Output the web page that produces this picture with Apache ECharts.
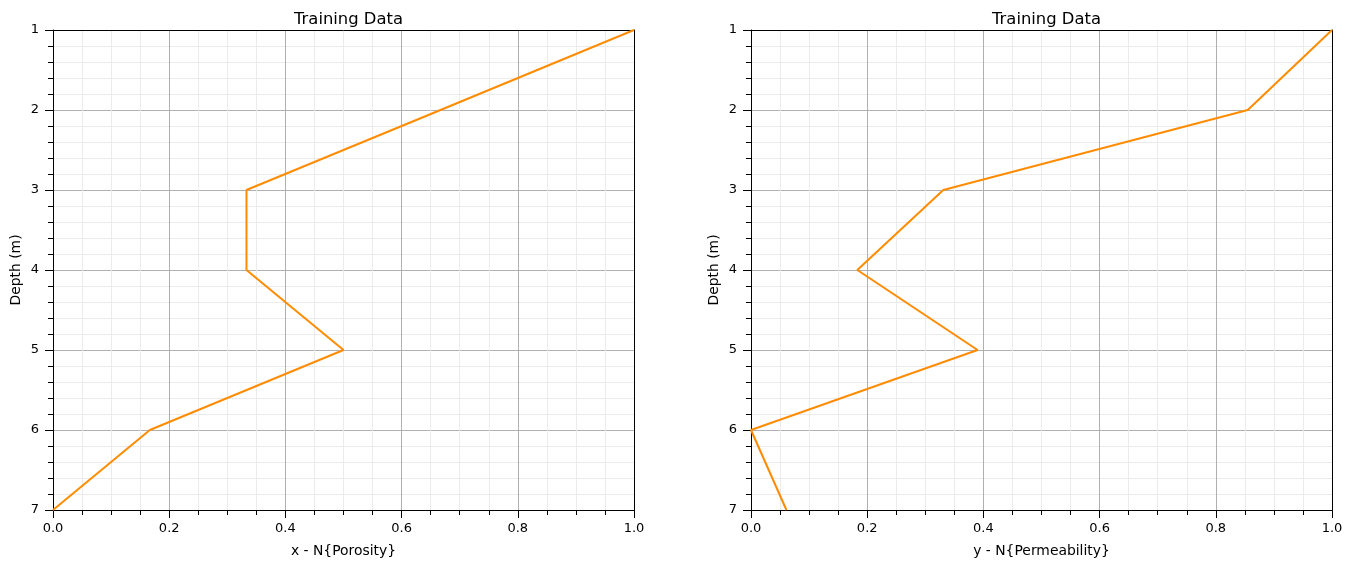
<!DOCTYPE html>
<html>
<head>
<meta charset="utf-8">
<script src="https://cdn.jsdelivr.net/npm/echarts@6/dist/echarts.min.js"></script>
<style>html,body{margin:0;padding:0;background:#fff}#c{width:1354px;height:568px}</style>
</head>
<body>
<div id="c"></div>
<script>
const depths = [1, 2, 3, 4, 5, 6, 7];
const porosity = [1.0, 0.667, 0.333, 0.333, 0.5, 0.1667, 0.0];
const permeability = [1.0, 0.855, 0.331, 0.183, 0.39, 0.0, 0.061];
const titles = ['Training Data', 'Training Data'];
const xNames = ['x - N{Porosity}', 'y - N{Permeability}'];
const yName = 'Depth (m)';

const FONT = 'DejaVu Sans';
const grids = [
  {left: 53, top: 30, width: 581, height: 480},
  {left: 751, top: 30, width: 581, height: 480}
];
const xAxes = [], yAxes = [], series = [], titleOpts = [];
const dataSets = [porosity, permeability];
grids.forEach((g, i) => {
  titleOpts.push({text: titles[i], left: g.left + g.width / 2, top: 7, textAlign: 'center',
    textStyle: {fontFamily: FONT, fontSize: 16.4, fontWeight: 'normal', color: '#000'}});
  xAxes.push({
    type: 'value', gridIndex: i, min: 0, max: 1, interval: 0.2, position: 'bottom',
    name: xNames[i], nameLocation: 'middle', nameGap: 34,
    nameTextStyle: {fontFamily: FONT, fontSize: 13.9, color: '#000'},
    axisLine: {show: true, onZero: false, lineStyle: {color: '#000', width: 1}},
    axisTick: {show: true, length: 8, lineStyle: {color: '#000'}},
    minorTick: {show: true, splitNumber: 4, length: 5, lineStyle: {color: '#000'}},
    axisLabel: {margin: 12, fontFamily: FONT, fontSize: 13, color: '#000', formatter: v => v.toFixed(1)},
    splitLine: {show: true, lineStyle: {color: '#b0b0b0', width: 1}},
    minorSplitLine: {show: true, lineStyle: {color: '#ebebeb', width: 1}}
  });
  xAxes.push({
    type: 'value', gridIndex: i, min: 0, max: 1, position: 'top',
    axisLine: {show: true, onZero: false, lineStyle: {color: '#000', width: 1}},
    axisTick: {show: false}, axisLabel: {show: false}, splitLine: {show: false}
  });
  yAxes.push({
    type: 'value', gridIndex: i, min: 1, max: 7, interval: 1, inverse: true, position: 'left',
    name: yName, nameLocation: 'middle', nameGap: 30, nameRotate: 90,
    nameTextStyle: {fontFamily: FONT, fontSize: 13.9, color: '#000'},
    axisLine: {show: true, onZero: false, lineStyle: {color: '#000', width: 1}},
    axisTick: {show: true, length: 8, lineStyle: {color: '#000'}},
    minorTick: {show: true, splitNumber: 5, length: 5, lineStyle: {color: '#000'}},
    axisLabel: {margin: 14, fontFamily: FONT, fontSize: 13, color: '#000'},
    splitLine: {show: true, lineStyle: {color: '#b0b0b0', width: 1}},
    minorSplitLine: {show: true, lineStyle: {color: '#ebebeb', width: 1}}
  });
  yAxes.push({
    type: 'value', gridIndex: i, min: 1, max: 7, inverse: true, position: 'right',
    axisLine: {show: true, onZero: false, lineStyle: {color: '#000', width: 1}},
    axisTick: {show: false}, axisLabel: {show: false}, splitLine: {show: false}
  });
  series.push({
    type: 'line', xAxisIndex: i * 2, yAxisIndex: i * 2, showSymbol: false, symbol: 'none',
    lineStyle: {color: '#ff8c00', width: 2}, itemStyle: {color: '#ff8c00'},
    data: depths.map((d, k) => [dataSets[i][k], d]), animation: false, z: 5
  });
});

const chart = echarts.init(document.getElementById('c'), null, {renderer: 'canvas'});
chart.setOption({
  animation: false,
  backgroundColor: '#fff',
  title: titleOpts,
  grid: grids,
  xAxis: xAxes,
  yAxis: yAxes,
  series: series
});
</script>
</body>
</html>
